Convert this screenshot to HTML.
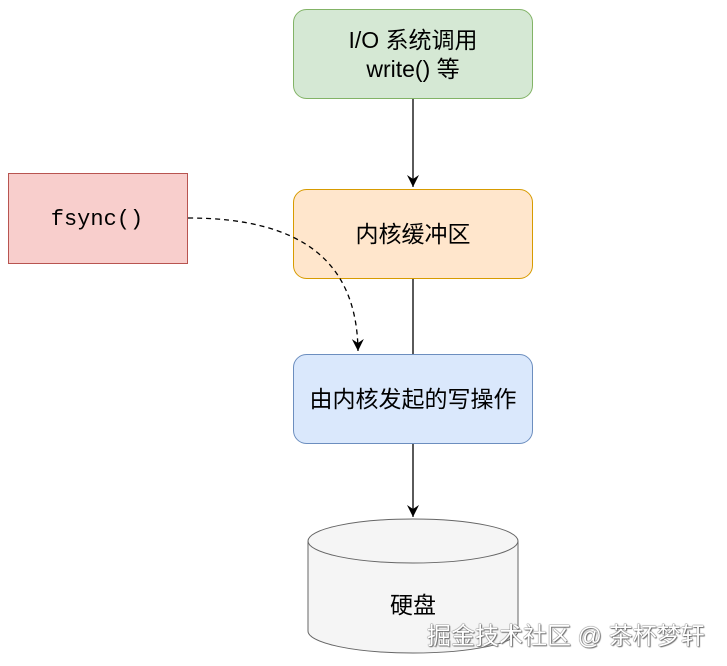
<!DOCTYPE html>
<html><head><meta charset="utf-8"><style>
body{margin:0;background:#fff;width:727px;height:666px;overflow:hidden}
svg text{font-family:"Liberation Sans","Noto Sans CJK SC",sans-serif;font-size:23px;fill:#000}
.wm{position:absolute;left:427px;top:616px;font:24px "Liberation Sans","Noto Sans CJK SC",sans-serif;color:#fff;text-shadow:0 0 1px #555,0 0 1px #555,1px 1px 1px #777;white-space:nowrap}
</style></head><body>
<svg width="727" height="666" style="position:absolute;left:0;top:0">
<defs><marker id="a" markerWidth="14" markerHeight="14" refX="12" refY="7" orient="auto" markerUnits="userSpaceOnUse"><path d="M0,1 L12,7 L0,13 L4,7 Z" fill="#000"/></marker></defs>
<rect x="293.5" y="9.5" width="239" height="89" rx="13" fill="#d5e8d4" stroke="#82b366"/>
<text x="413" y="48" text-anchor="middle">I/O  系统调用</text>
<text x="413" y="77" text-anchor="middle">write() 等</text>
<rect x="293.5" y="189.5" width="239" height="89" rx="13" fill="#ffe6cc" stroke="#d79b00"/>
<text x="413" y="242" text-anchor="middle">内核缓冲区</text>
<rect x="293.5" y="354.5" width="239" height="89" rx="13" fill="#dae8fc" stroke="#6c8ebf"/>
<text x="413" y="407" text-anchor="middle">由内核发起的写操作</text>
<rect x="8.5" y="173.5" width="179" height="90" fill="#f8cecc" stroke="#b85450"/>
<text x="97" y="225" text-anchor="middle" style="font-family:'Liberation Mono',monospace;font-size:22px">fsync()</text>
<path d="M518,541 V631 A105,22 0 0 1 308,631 V541" fill="#f5f5f5" stroke="#666"/>
<ellipse cx="413" cy="541" rx="105" ry="22" fill="#f5f5f5" stroke="#666"/>
<text x="413" y="613" text-anchor="middle">硬盘</text>
<line x1="413" y1="99" x2="413" y2="187" stroke="#000" stroke-width="1.3" marker-end="url(#a)"/>
<line x1="413" y1="279" x2="413" y2="354" stroke="#000" stroke-width="1.3"/>
<line x1="413" y1="444" x2="413" y2="517" stroke="#000" stroke-width="1.3" marker-end="url(#a)"/>
<path d="M188,218 C300,218 357,260 358,351" fill="none" stroke="#000" stroke-width="1.3" stroke-dasharray="5,4" marker-end="url(#a)"/>
</svg>
<div class="wm">掘金技术社区 @ 茶杯梦轩</div>
</body></html>
